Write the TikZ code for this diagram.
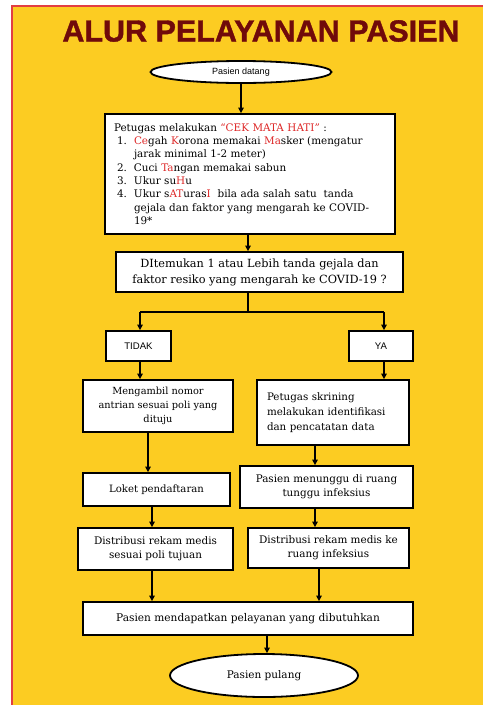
\documentclass[tikz,border=0pt]{standalone}
\usepackage{fontspec}
\setmainfont{DejaVu Serif}
\newfontfamily\sansf{Liberation Sans}
\newfontfamily\titlef{Liberation Sans}[BoldFeatures={FakeBold=1.3}]
\usetikzlibrary{shapes.geometric,arrows.meta}
\definecolor{bgyellow}{RGB}{252,204,34}
\definecolor{titlered}{RGB}{112,10,10}
\definecolor{framered}{RGB}{226,62,66}
\definecolor{hl}{RGB}{222,40,40}
\newcommand{\hlt}[1]{\textcolor{hl}{#1}}
\begin{document}
\begin{tikzpicture}[x=1pt,y=-1pt,
  box/.style={draw=black,fill=white,line width=1.8pt,inner sep=0pt,align=center},
  oval/.style={ellipse,draw=black,fill=white,line width=1.8pt,inner sep=0pt},
  arr/.style={line width=1.4pt,-{Triangle[length=5.5pt,width=5.5pt]}},
  ln/.style={line width=1.4pt}]
\useasboundingbox (0,0) rectangle (483,705);
\fill[white] (0,0) rectangle (483,705);
\fill[bgyellow] (12,6) rectangle (483,705);
\draw[framered,line width=2pt] (12,705) -- (12,6) -- (483,6);
\node[font=\titlef\bfseries\fontsize{30.5}{33}\selectfont,text=titlered] (title) at (261,31) {ALUR PELAYANAN PASIEN};

\node[oval,minimum width=181pt,minimum height=22pt,font=\sansf\fontsize{9}{10}\selectfont] (start) at (241,72) {Pasien datang};

\node[box,text width=272pt,inner xsep=9pt,minimum height=120pt,align=left,font=\fontsize{10.4}{13.3}\selectfont] (chk) at (250,174)
{Petugas melakukan \hlt{“CEK MATA HATI”} :\\
\hspace*{3pt}\makebox[17pt][l]{1.}\hlt{Ce}gah \hlt{K}orona memakai \hlt{Ma}sker (mengatur\\
\hspace*{20pt}jarak minimal 1-2 meter)\\
\hspace*{3pt}\makebox[17pt][l]{2.}Cuci \hlt{Ta}ngan memakai sabun\\
\hspace*{3pt}\makebox[17pt][l]{3.}Ukur su\hlt{H}u\\
\hspace*{3pt}\makebox[17pt][l]{4.}Ukur s\hlt{AT}uras\hlt{I} \ bila ada salah satu \ tanda\\
\hspace*{20pt}gejala dan faktor yang mengarah ke COVID-\\
\hspace*{20pt}19*};

\node[box,minimum width=287pt,minimum height=40pt,font=\fontsize{11.3}{16}\selectfont] (dec) at (259.5,272)
{DItemukan 1 atau Lebih tanda gejala dan\\ faktor resiko yang mengarah ke COVID-19 ?};

\node[box,minimum width=65pt,minimum height=30pt,font=\sansf\fontsize{9.6}{11}\selectfont] (tidak) at (138.5,346) {TIDAK};
\node[box,minimum width=64pt,minimum height=30pt,font=\sansf\fontsize{9.6}{11}\selectfont] (ya) at (381,346) {YA};

\node[box,minimum width=150pt,minimum height=52pt,font=\fontsize{9.8}{14}\selectfont] (meng) at (158,406)
{Mengambil nomor\\ antrian sesuai poli yang\\ dituju};
\node[box,text width=132pt,inner xsep=10pt,minimum height=65pt,align=left,font=\fontsize{10.3}{15}\selectfont] (ptg) at (333,412.5)
{Petugas skrining\\ melakukan identifikasi\\ dan pencatatan data};

\node[box,minimum width=147pt,minimum height=33pt,font=\fontsize{10.1}{14}\selectfont] (loket) at (156.5,489.5) {Loket pendaftaran};
\node[box,minimum width=173pt,minimum height=42pt,font=\fontsize{10.4}{14}\selectfont] (tunggu) at (326.5,487)
{Pasien menunggu di ruang\\ tunggu infeksius};

\node[box,minimum width=155pt,minimum height=42pt,font=\fontsize{10.4}{14}\selectfont] (dist1) at (155.5,549)
{Distribusi rekam medis\\ sesuai poli tujuan};
\node[box,minimum width=161pt,minimum height=40pt,font=\fontsize{10.4}{14}\selectfont] (dist2) at (328.5,548)
{Distribusi rekam medis ke\\ ruang infeksius};

\node[box,minimum width=330pt,minimum height=33pt,font=\fontsize{10.6}{14}\selectfont] (dapat) at (248,618.5)
{Pasien mendapatkan pelayanan yang dibutuhkan};

\node[oval,minimum width=188pt,minimum height=43pt,font=\fontsize{10.5}{12}\selectfont] (pulang) at (264,675.5) {Pasien pulang};

\coordinate (split) at (248,312);
\draw[arr] (start.south -| 241,0) -- (chk.north -| 241,0);
\draw[arr] (chk.south -| split) -- (dec.north -| split);
\draw[ln] (dec.south -| split) -- (split);
\draw[ln] (140,312) -- (384,312);
\draw[arr] (140,312) -- (tidak.north -| 140,0);
\draw[arr] (384,312) -- (ya.north -| 384,0);
\draw[arr] (tidak.south -| 140,0) -- (meng.north -| 140,0);
\draw[arr] (ya.south -| 384,0) -- (ptg.north -| 384,0);
\draw[arr] (meng.south -| 148,0) -- (loket.north -| 148,0);
\draw[arr] (ptg.south -| 315,0) -- (tunggu.north -| 315,0);
\draw[arr] (loket.south -| 152,0) -- (dist1.north -| 152,0);
\draw[arr] (tunggu.south -| 315,0) -- (dist2.north -| 315,0);
\draw[arr] (dist1.south -| 152,0) -- (dapat.north -| 152,0);
\draw[arr] (dist2.south -| 319,0) -- (dapat.north -| 319,0);
\draw[arr] (dapat.south -| 267,0) -- (pulang.north -| 267,0);
\end{tikzpicture}
\end{document}
